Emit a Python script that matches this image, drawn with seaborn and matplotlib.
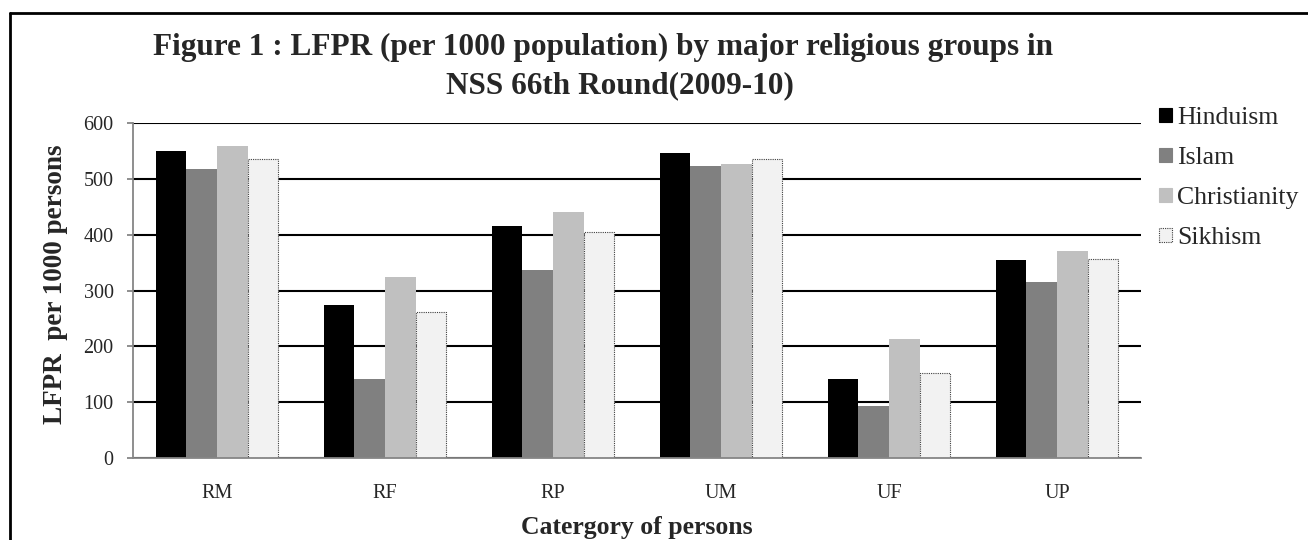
import numpy as np
import pandas as pd
import matplotlib
matplotlib.use("Agg")
import matplotlib.pyplot as plt
from matplotlib.patches import Patch
from matplotlib.lines import Line2D
import seaborn as sns

# values
categories = ["RM", "RF", "RP", "UM", "UF", "UP"]
religions = ["Hinduism", "Islam", "Christianity", "Sikhism"]
hinduism = [550, 274, 416, 546, 141, 354]
islam = [517, 142, 336, 523, 93, 316]
christianity = [558, 325, 441, 527, 214, 371]
sikhism = [535, 262, 405, 536, 153, 356]
yticks = [0, 100, 200, 300, 400, 500, 600]

colors = ["#000000", "#808080", "#C0C0C0", "#F2F2F2"]

df = pd.DataFrame({
    "category": categories * 4,
    "religion": np.repeat(religions, len(categories)),
    "value": hinduism + islam + christianity + sikhism,
})

sns.set_style("white")
plt.rcParams["font.family"] = ["Liberation Serif", "DejaVu Serif"]

W, H = 1308, 540
fig = plt.figure(figsize=(W / 100, H / 100), dpi=100)
ax = fig.add_axes([133 / W, 82 / H, 1008 / W, 335 / H])

sns.barplot(data=df, x="category", y="value", hue="religion", order=categories,
            hue_order=religions, palette=colors, width=0.73, gap=0,
            saturation=1, errorbar=None, ax=ax, legend=False)

# Sikhism bars get the dotted outline
n = len(categories)
for i, bar in enumerate(ax.patches[:4 * n]):
    if i >= 3 * n:
        bar.set_edgecolor("#404040")
        bar.set_linewidth(0.8)
        bar.set_linestyle((0, (1, 1)))
    else:
        bar.set_linewidth(0)

ax.set_ylim(0, 600)
ax.set_xlim(-0.5, n - 0.5)
ax.set_yticks(yticks)
ax.yaxis.grid(True, color="black", linewidth=1.5)
ax.set_axisbelow(True)

for side in ["top", "right"]:
    ax.spines[side].set_visible(False)
for side in ["left", "bottom"]:
    ax.spines[side].set_color("#868686")
    ax.spines[side].set_linewidth(1.3)

ax.set_xticks(np.arange(-0.5, n, 1.0), minor=True)
ax.tick_params(axis="x", which="major", length=0, labelsize=14.5, pad=19)
ax.tick_params(axis="x", which="minor", length=5, color="#868686", width=1.3, direction="out")
ax.tick_params(axis="y", length=4.5, color="#868686", width=1.3, direction="out",
               labelsize=14.5, pad=9.5, left=True)

ax.set_xlabel("Catergory of persons", fontsize=18.5, fontweight="bold")
ax.xaxis.set_label_coords(0.5, -0.172)
ax.set_ylabel("LFPR  per 1000 persons", fontsize=19.5, fontweight="bold")
ax.yaxis.set_label_coords(-0.064, 0.52)

fig.text(603 / W, 1 - 47 / H,
         "Figure 1 : LFPR (per 1000 population) by major religious groups in",
         ha="center", va="center", fontsize=22.5, fontweight="bold")
fig.text(620 / W, 1 - 86 / H, "NSS 66th Round(2009-10)",
         ha="center", va="center", fontsize=22.5, fontweight="bold")

handles = [Patch(facecolor=c, edgecolor=("#404040" if i == 3 else c), linewidth=0.8,
                 linestyle=((0, (1, 1)) if i == 3 else "-"))
           for i, c in enumerate(colors)]
fig.legend(handles, religions, loc="upper left", bbox_to_anchor=(1159 / W, 1 - 107 / H),
           frameon=False, fontsize=18.5, handlelength=0.5, handleheight=0.5,
           handletextpad=0.2, labelspacing=0.7, borderaxespad=0, borderpad=0)

# outer chart frame: only the left and top edges fall inside the picture
fig.add_artist(Line2D([10 / W, 10 / W], [0, 1 - 13 / H], color="black", linewidth=2,
                      transform=fig.transFigure))
fig.add_artist(Line2D([10 / W, 1], [1 - 13 / H, 1 - 13 / H], color="black", linewidth=2,
                      transform=fig.transFigure))

fig.savefig("out.png", dpi=100)
